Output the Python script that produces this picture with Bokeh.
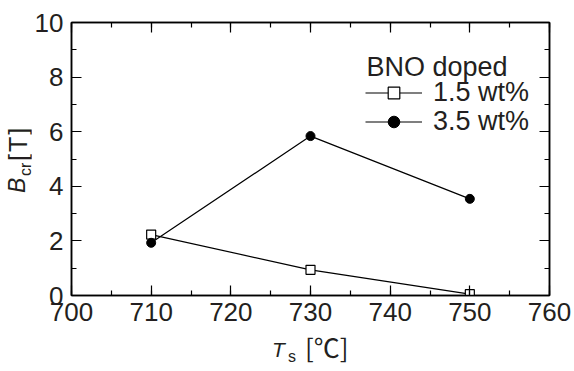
from bokeh.plotting import figure
from bokeh.models import (Range1d, SingleIntervalTicker, LinearAxis, Label, Legend, LegendItem,
                          CustomJSTickFormatter, Div)
from bokeh.layouts import column, row
from bokeh.embed import file_html
from bokeh.resources import INLINE

# Data
temps = [710, 730, 750]
b_15 = [2.23, 0.94, 0.05]
b_35 = [1.93, 5.84, 3.54]
series_names = ["1.5 wt%", "3.5 wt%"]
legend_title = "BNO doped"
x_ticks_interval = 10
y_ticks_interval = 2

FONT = "Liberation Sans"
TXT = "#231f20"
W, H = 574, 371
YW = 31            # width of the y-label strip
PH = 338           # height of the plot canvas
FL, FB = 71, 295   # frame left / bottom in page px

p = figure(width=W - YW, height=PH, output_backend="svg", toolbar_location=None,
           x_range=Range1d(700, 760), y_range=Range1d(0, 10),
           min_border_left=FL - YW, min_border_right=W - 549, min_border_top=22,
           min_border_bottom=PH - FB, margin=0)
p.grid.visible = False
p.outline_line_color = "black"
p.outline_line_width = 1.5
p.background_fill_color = "white"
p.border_fill_color = "white"

def style_axis(ax, labels=True):
    ax.axis_line_width = 1.5
    ax.axis_line_color = "black"
    ax.major_tick_in = 10
    ax.major_tick_out = 0
    ax.minor_tick_in = 5
    ax.minor_tick_out = 0
    ax.major_tick_line_width = 1.2
    ax.minor_tick_line_width = 1.2
    ax.major_label_text_font = FONT
    ax.major_label_text_font_size = "26px"
    ax.major_label_text_color = TXT
    if not labels:
        ax.formatter = CustomJSTickFormatter(code="return ''")
        ax.major_label_text_font_size = "1px"
        ax.major_label_standoff = 0

p.xaxis.ticker = SingleIntervalTicker(interval=x_ticks_interval, num_minor_ticks=2)
p.yaxis.ticker = SingleIntervalTicker(interval=y_ticks_interval, num_minor_ticks=2)
style_axis(p.xaxis[0])
style_axis(p.yaxis[0])
p.xaxis.major_label_standoff = 7
p.yaxis.major_label_standoff = 8

top = LinearAxis(ticker=SingleIntervalTicker(interval=x_ticks_interval, num_minor_ticks=2))
right = LinearAxis(ticker=SingleIntervalTicker(interval=y_ticks_interval, num_minor_ticks=2))
style_axis(top, False)
style_axis(right, False)
p.add_layout(top, "above")
p.add_layout(right, "right")

l1 = p.line(temps, b_15, line_color="black", line_width=1.2)
m1 = p.scatter(temps, b_15, marker="square", size=9, fill_color="white", line_color="black", line_width=1.2)
l2 = p.line(temps, b_35, line_color="black", line_width=1.2)
m2 = p.scatter(temps, b_35, marker="circle", size=9, fill_color="black", line_color="black")

def make_legend(label, rends, loc):
    lg = Legend(items=[LegendItem(label=label, renderers=rends)], location=loc,
                label_text_font=FONT, label_text_font_size="27px", label_text_color=TXT,
                glyph_width=57, glyph_height=29, label_height=29, label_standoff=11,
                spacing=0, padding=0, margin=0,
                border_line_color=None, background_fill_alpha=0)
    p.add_layout(lg, "center")

make_legend(series_names[0], [l1, m1], (294, 187))
make_legend(series_names[1], [l2, m2], (294, 158))

# Legend title (inside the frame)
p.add_layout(Label(x=366 - FL, y=FB - 66, x_units="screen", y_units="screen", text=legend_title,
                   text_font=FONT, text_font_size="27px", text_color=TXT,
                   text_baseline="alphabetic", text_align="left"))

# Axis labels as HTML text (mixed italic / subscript)
def piece(text, left, top, size, font=FONT, italic=False, rotate=False, extra=""):
    st = (f"position:absolute;left:{left}px;top:{top}px;white-space:nowrap;"
          f"font-family:'{font}';font-size:{size}px;line-height:1;color:{TXT};"
          f"font-style:{'italic' if italic else 'normal'};{extra}")
    if rotate:
        st += "transform-origin:0 0;transform:rotate(-90deg);"
    return f'<span style="{st}">{text}</span>'

def lib_top(baseline, size):
    return round(baseline - 0.8465 * size, 1)

# y label: B_cr [T], rotated, in strip of width YW (page x = strip x)
y_html = ('<div style="position:relative;width:%dpx;height:%dpx;overflow:visible;">' % (YW, PH)
          + piece("B", lib_top(25.5, 23), 193, 23, italic=True, rotate=True)
          + piece("cr", lib_top(31, 16), 176, 16, rotate=True)
          + piece("[T]", lib_top(27.5, 25), 161, 25, rotate=True, extra="letter-spacing:2px;")
          + '</div>')
ydiv = Div(text=y_html, width=YW, height=PH, margin=0)

# x label: T_s [℃], strip starts at page y = PH
x_html = ('<div style="position:relative;width:%dpx;height:%dpx;overflow:visible;">' % (W, H - PH)
          + piece("T", 272, lib_top(357 - PH, 21), 21, italic=True)
          + piece("s", 288, lib_top(362 - PH, 16), 16)
          + piece("[℃]", 305, round(358 - PH - 0.936 * 26, 1), 26, font="Noto Sans CJK JP")
          + '</div>')
xdiv = Div(text=x_html, width=W, height=H - PH, margin=0)

layout = column(row(ydiv, p, spacing=0, margin=0), xdiv, spacing=0, margin=0)

open("out.html", "w").write(file_html(layout, INLINE))
